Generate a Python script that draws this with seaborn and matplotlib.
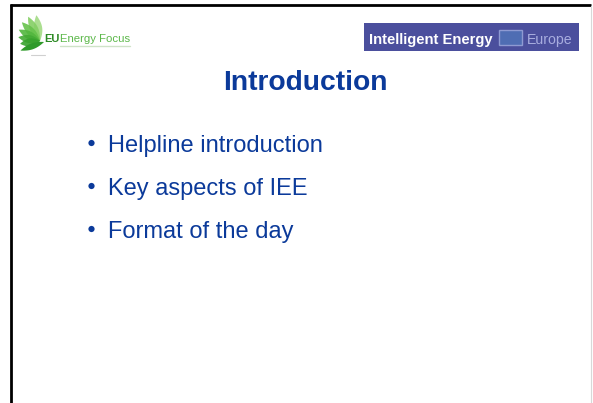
import numpy as np
import pandas as pd
import matplotlib
matplotlib.use("Agg")
import matplotlib.pyplot as plt
from matplotlib.patches import Rectangle, Polygon
import seaborn as sns

# slide content
title = "Introduction"
bullets = ["Helpline introduction", "Key aspects of IEE", "Format of the day"]
logo_left = ("EU", "Energy Focus")
logo_right = ("Intelligent Energy", "Europe")

# leaf fan of the left logo (angle in degrees, length in px)
leaf_angles = [98, 116, 134, 152, 170, 188]
leaf_lengths = [26, 27, 26, 24, 22, 20]
leaf_colors = ["#a2db84", "#84cf64", "#66c24b", "#52b63e", "#43ab34", "#37a22d"]

TEXT_BLUE = "#0b3a9a"
BANNER = "#4b4f9d"

sns.set_theme(style="white")
plt.rcParams["font.family"] = ["Liberation Sans", "DejaVu Sans"]


def leaf_points(x0, y0, ang, length, width):
    """Polygon de uma folha partindo de (x0, y0), em coordenadas de pixel."""
    t = np.linspace(0, 1, 30)
    half = width / 2 * np.sin(np.pi * t) ** 0.9
    along = np.concatenate([t, t[::-1]]) * length
    across = np.concatenate([half, -half[::-1]])
    a = np.deg2rad(ang)
    ux, uy = np.cos(a), -np.sin(a)
    px, py = -uy, ux
    xs = x0 + along * ux + across * px
    ys = y0 + along * uy + across * py
    return np.column_stack([xs, ys])


fig = plt.figure(figsize=(5.93, 4.03), dpi=100)
ax = fig.add_axes([0, 0, 1, 1])
ax.set_xlim(0, 593)
ax.set_ylim(403, 0)
ax.axis("off")

# moldura do slide
ax.plot([9.5, 591], [4.8, 4.8], color="black", lw=2.0, solid_capstyle="butt")
ax.plot([10.5, 10.5], [4, 403], color="black", lw=2.0, solid_capstyle="butt")
ax.plot([591, 591], [6, 403], color="#d8d8d8", lw=0.8)

# logo esquerdo
for ang, ln, col in zip(leaf_angles, leaf_lengths, leaf_colors):
    ax.add_patch(Polygon(leaf_points(40, 41, ang, ln, 8), closed=True,
                         facecolor=col, edgecolor="none", alpha=0.9))
ax.add_patch(Polygon(leaf_points(44, 42, 200, 25, 6), closed=True,
                     facecolor="#2f9a2a", edgecolor="none"))
ax.text(44, 41.5, logo_left[0], color="#2c8a24", fontsize=8,
        fontweight="bold", va="baseline", ha="left")
ax.text(60, 41.5, logo_left[1], color="#5cb84a", fontsize=8.2,
        va="baseline", ha="left")
ax.plot([60, 130], [46, 46], color="#cfe3c8", lw=1.0)
ax.plot([31, 45], [55, 55], color="#d0d0d0", lw=0.8)

# logo direito
ax.add_patch(Rectangle((364, 23), 215, 28, facecolor=BANNER, edgecolor="none"))
ax.text(369, 44, logo_right[0], color="white", fontsize=10.6,
        fontweight="bold", va="baseline", ha="left")
ax.add_patch(Rectangle((499, 30), 23, 15, facecolor="#4f6db3",
                       edgecolor="#8e9ad2", lw=1.0))
ax.text(527, 44, logo_right[1], color="#a8addf", fontsize=10.2,
        va="baseline", ha="left")

# titulo
ax.text(305, 90, title, color=TEXT_BLUE, fontsize=20.3, fontweight="bold",
        ha="center", va="baseline")

# marcadores
df = pd.DataFrame({"text": bullets})
df["y"] = 152 + 43 * np.arange(len(df))
sns.scatterplot(x=np.full(len(df), 91.5), y=df["y"] - 9, ax=ax, s=20,
                color=TEXT_BLUE, edgecolor="none", legend=False)
for _, row in df.iterrows():
    ax.text(108, row["y"], row["text"], color=TEXT_BLUE, fontsize=17,
            ha="left", va="baseline")

fig.savefig("out.png", dpi=100, facecolor="white")
